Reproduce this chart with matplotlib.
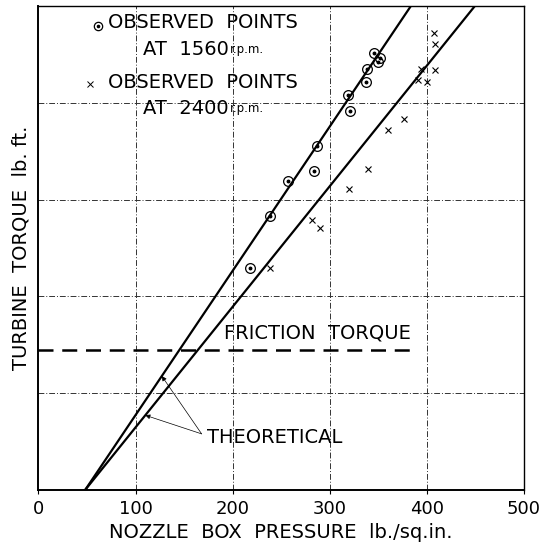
import matplotlib
matplotlib.use("Agg")
import matplotlib.pyplot as plt

plt.rcParams['font.family'] = ['DejaVu Sans']

# Observed torque (lb ft) against nozzle box pressure (lb/sq.in.)
p_1560 = [217.6, 238.2, 257.0, 283.7, 286.8, 320.5, 318.7, 337.7, 338.7, 349.6, 345.2, 351.5]
t_1560 = [22.9, 28.3, 31.9, 33.0, 35.5, 39.2, 40.8, 42.2, 43.5, 44.2, 45.1, 44.6]

p_2400 = [238.9, 282.1, 289.6, 319.4, 339.7, 359.6, 376.0, 391.2, 394.2, 399.7, 408.2, 408.2, 406.9]
t_2400 = [22.9, 27.9, 27.1, 31.1, 33.2, 37.2, 38.3, 42.4, 43.5, 42.2, 43.4, 46.1, 47.2]

# Theoretical lines (end points)
theo_1560_x = [48.0, 383.5]
theo_1560_y = [0.0, 50.0]
theo_2400_x = [48.0, 449.4]
theo_2400_y = [0.0, 50.0]

# Friction torque level
friction_x = [0.0, 385.0]
friction_torque = 14.43

x_ticks = [0, 100, 200, 300, 400, 500]
x_tick_labels = ["0", "100", "200", "300", "400", "500"]
y_grid = [10, 20, 30, 40]

fig = plt.figure(figsize=(5.46, 5.48), dpi=100)
ax = fig.add_axes([0.0705, 0.1058, 0.8892, 0.8832])
ax.set_xlim(0, 500)
ax.set_ylim(0, 50)

# grid
for gx in x_ticks[1:-1]:
    ax.axvline(gx, color="#333333", lw=0.7, ls=(0, (6, 2, 1, 2)), zorder=1)
for gy in y_grid:
    ax.axhline(gy, color="#333333", lw=0.7, ls=(0, (6, 2, 1, 2)), zorder=1)

ax.plot(theo_1560_x, theo_1560_y, color="black", lw=1.6, zorder=3)
ax.plot(theo_2400_x, theo_2400_y, color="black", lw=1.6, zorder=3)
ax.plot(friction_x, [friction_torque, friction_torque], color="black", lw=1.8,
        ls=(0, (6, 3.5)), zorder=3)

# observed points
ax.plot(p_1560, t_1560, ls="none", marker="o", ms=7, mfc="none", mec="black", mew=0.9, zorder=4)
ax.plot(p_1560, t_1560, ls="none", marker="o", ms=1.8, mfc="black", mec="black", zorder=4)
ax.plot(p_2400, t_2400, ls="none", marker="x", ms=4.5, mec="black", mew=0.8, zorder=4)

# key symbols
ax.plot([60.9], [47.9], ls="none", marker="o", ms=6, mfc="none", mec="black", mew=0.9, clip_on=False)
ax.plot([60.9], [47.9], ls="none", marker="o", ms=1.6, mfc="black", mec="black", clip_on=False)
ax.plot([53.0], [41.9], ls="none", marker="x", ms=4, mec="black", mew=0.7, clip_on=False)

fs = 14
ax.text(71.5, 48.3, "OBSERVED  POINTS", fontsize=fs, va="center", ha="left")
t1 = ax.text(107.5, 45.5, "AT  1560", fontsize=fs, va="center", ha="left")
ax.annotate("r.p.m.", xy=(1, 0), xycoords=t1, xytext=(1, 2.5), textcoords="offset points",
            fontsize=8.5, va="bottom", ha="left")
ax.text(71.5, 42.1, "OBSERVED  POINTS", fontsize=fs, va="center", ha="left")
t2 = ax.text(107.5, 39.4, "AT  2400", fontsize=fs, va="center", ha="left")
ax.annotate("r.p.m.", xy=(1, 0), xycoords=t2, xytext=(1, 2.5), textcoords="offset points",
            fontsize=8.5, va="bottom", ha="left")

ax.text(191, 16.2, "FRICTION  TORQUE", fontsize=fs, va="center", ha="left")
ax.text(173.5, 5.4, "THEORETICAL", fontsize=fs, va="center", ha="left")

arrow = dict(arrowstyle="-|>", color="black", lw=0.5, mutation_scale=7, shrinkA=0, shrinkB=0)
ax.annotate("", xy=(110, (110 - 48.0) * 50.0 / (449.4 - 48.0)), xytext=(168, 5.8),
            arrowprops=arrow)
ax.annotate("", xy=(127, (127 - 48.0) * 50.0 / (383.5 - 48.0)), xytext=(168, 5.8),
            arrowprops=arrow)

ax.set_xticks(x_ticks)
ax.set_xticklabels(x_tick_labels, fontsize=13)
ax.set_yticks([])
ax.tick_params(axis="x", length=3, width=0.8, pad=4, direction="out")

ax.set_xlabel("NOZZLE  BOX  PRESSURE  lb./sq.in.", fontsize=fs, labelpad=4)
ax.set_ylabel("TURBINE  TORQUE  lb. ft.", fontsize=fs, labelpad=6)

for side in ["left", "bottom"]:
    ax.spines[side].set_linewidth(1.4)
for side in ["top", "right"]:
    ax.spines[side].set_linewidth(1.0)

fig.savefig("out.png", dpi=100)
